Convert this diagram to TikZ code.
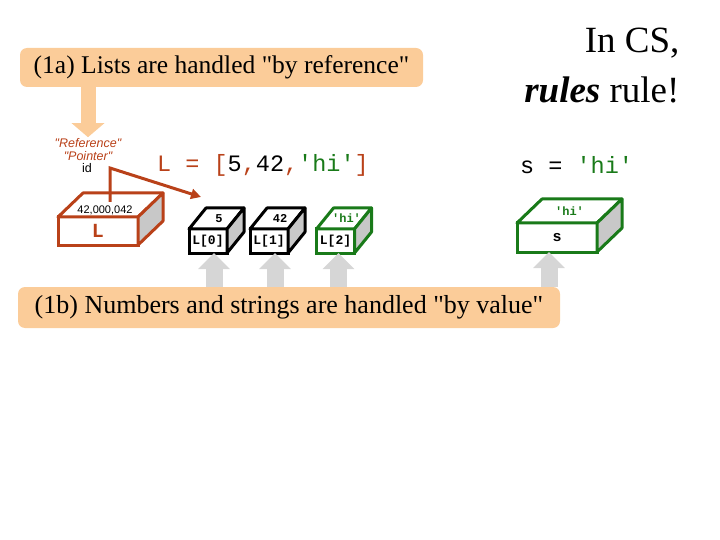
\documentclass[tikz,border=0pt]{standalone}
\usepackage{fontspec}
\newfontfamily\serif{Liberation Serif}
\newfontfamily\code{Liberation Mono}
\newfontfamily\plain{Liberation Sans}
\usetikzlibrary{arrows.meta,positioning}

\definecolor{peach}{RGB}{251,204,153}
\definecolor{brick}{RGB}{185,65,25}
\definecolor{dkgreen}{RGB}{25,122,25}
\definecolor{sidegray}{RGB}{200,200,200}
\definecolor{arrowgray}{RGB}{214,214,214}

\tikzset{
  banner/.style={fill=peach, rounded corners=7pt, inner sep=0pt, font=\serif\fontsize{25.5}{28}\selectfont},
  front/.style={draw, line width=3pt, fill=white, outer sep=0pt, inner sep=0pt, font=\code\bfseries\fontsize{13}{15}\selectfont},
  edge/.style={line width=3pt, line join=round},
  upgray/.style={arrowgray, line width=17pt, -{Triangle[width=31pt,length=16pt]}},
}

% top and side face of a box, behind its front node
\newcommand{\boxfaces}[4]{%
  \filldraw[edge, draw=#4, fill=white] (#1.north west) -- ++(#2,-#3) -- ([shift={(#2,-#3)}]#1.north east) -- (#1.north east) -- cycle;
  \filldraw[edge, draw=#4, fill=sidegray] (#1.north east) -- ++(#2,-#3) -- ([shift={(#2,-#3)}]#1.south east) -- (#1.south east) -- cycle;
}

\begin{document}
\begin{tikzpicture}[x=1pt,y=-1pt]
	\useasboundingbox (0,0) rectangle (720,540);

	\node[anchor=east, font=\serif\fontsize{37}{42}\selectfont] (incs) at (683,43) {In CS,};
	\node[anchor=east, font=\serif\fontsize{37}{42}\selectfont] (rules) at (683,90) {\textbf{\textit{rules}} rule!};

	% by reference
	\node[banner, minimum width=403pt, minimum height=39pt] (byref) at (221.5,67.5) {(1a) Lists are handled "by reference"};
	\node[font=\plain\itshape\fontsize{12.5}{14}\selectfont, text=brick, inner sep=1pt] (refword) at (88,143) {"Reference"};
	\node[font=\plain\itshape\fontsize{12.5}{14}\selectfont, text=brick, inner sep=1pt] (ptrword) at (88,156) {"Pointer"};
	\node[font=\plain\fontsize{12.5}{14}\selectfont, inner sep=1pt] (idword) at (87,168) {id};
	\draw[peach, line width=15pt, -{Triangle[width=32pt,length=14pt]}] (byref.south -| refword.north) -- (refword.north);

	\node[front, draw=brick, minimum width=80pt, minimum height=28pt, text=brick, font=\code\bfseries\fontsize{20}{22}\selectfont] (Lbox) at (98,231) {L};
	\boxfaces{Lbox}{25}{24}{brick}
	\node[font=\plain\fontsize{11}{13}\selectfont, inner sep=0pt] (Ltop) at ([shift={(7,-7)}]Lbox.north) {42,000,042};

	\node[anchor=west, font=\code\fontsize{23.5}{26}\selectfont, text=brick, inner sep=0pt] (Llist) at (157,165) {L = [\textcolor{black}{5},\textcolor{black}{42},\textcolor{dkgreen}{'hi'}]};
	\node[anchor=west, font=\code\fontsize{23.5}{26}\selectfont, inner sep=0pt] (slist) at (520,165) {s = \textcolor{dkgreen}{'hi'}};

	% list items and s
	\foreach \i/\x/\v/\c in {0/208/5/black, 1/269/42/black, 2/335.5/{'hi'}/dkgreen}
	{
		\node[front, draw=\c, minimum width=38pt, minimum height=24pt] (l\i) at (\x,241) {L[\i]};
		\boxfaces{l\i}{17}{21}{\c}
		\node[font=\code\bfseries\fontsize{12}{14}\selectfont, text=\c, inner sep=0pt] (v\i) at ([shift={(11,-10.5)}]l\i.north) {\v};
	}
	\node[front, draw=dkgreen, minimum width=80pt, minimum height=29pt, font=\code\bfseries\fontsize{15}{17}\selectfont] (sbox) at (557,237.5) {s};
	\boxfaces{sbox}{25}{24}{dkgreen}
	\node[font=\code\bfseries\fontsize{12}{14}\selectfont, text=dkgreen, inner sep=0pt] (stop) at ([shift={(12.5,-12)}]sbox.north) {'hi'};

	% id pointer
	\coordinate (ptr) at ([shift={(12,-15)}]Lbox.north);
	\coordinate (ref) at (201,197);
	\draw[brick, line width=3pt, -{Triangle[width=10pt,length=10pt]}] (ptr) -- ++(0,-34) -- (ref);

	% by value
	\node[banner, minimum width=542pt, minimum height=41pt, font=\serif\fontsize{26}{29}\selectfont] (byval) at (289,307.5) {(1b) Numbers and strings are handled "by value"};
	\foreach \n/\s in {l0/6, l1/6, l2/3, sbox/-8}
	{
		\coordinate (tip\n) at ([xshift=\s pt]\n.south);
		\draw[upgray] (tip\n |- byval.north) -- (tip\n);
	}
\end{tikzpicture}
\end{document}
